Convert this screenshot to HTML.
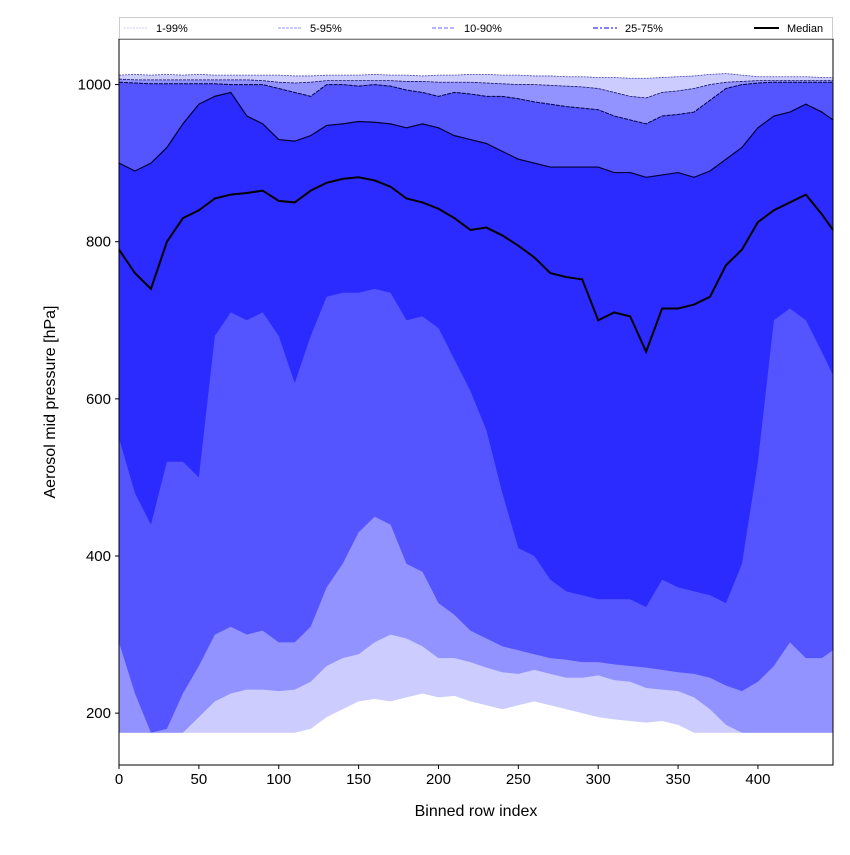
<!DOCTYPE html>
<html><head><meta charset="utf-8"><style>
body{margin:0;background:#fff;font-family:"Liberation Sans",sans-serif}
svg text{font-family:"Liberation Sans",sans-serif}
</style></head><body>
<svg id="c" width="850" height="850"></svg>
<script>
const xs=[0,10,20,30,40,50,60,70,80,90,100,110,120,130,140,150,160,170,180,190,200,210,220,230,240,250,260,270,280,290,300,310,320,330,340,350,360,370,380,390,400,410,420,430,440,447];
const p1=[175,175,175,175,175,175,175,175,175,175,175,175,180,195,205,215,218,215,220,225,220,222,215,210,205,210,215,210,205,200,195,192,190,188,190,185,175,175,175,175,175,175,175,175,175,175];
const p5=[175,175,175,175,175,195,215,225,230,230,228,230,240,260,270,275,290,300,295,285,270,270,265,258,252,250,255,250,245,245,248,242,240,232,230,228,220,205,185,175,175,175,175,175,175,175];
const p10=[290,225,175,180,225,260,300,310,300,305,290,290,310,360,390,430,450,440,390,380,340,325,305,295,285,280,275,270,268,265,265,262,260,258,255,252,250,245,235,228,240,260,290,270,270,280];
const p25=[550,480,440,520,520,500,680,710,700,710,680,620,680,730,735,735,740,735,700,705,690,650,610,560,480,410,400,370,355,350,345,345,345,335,370,360,355,350,340,390,520,700,715,700,660,630];
const median=[790,760,740,800,830,840,855,860,862,865,852,850,865,875,880,882,878,870,855,850,842,830,815,818,808,795,780,760,755,752,700,710,705,660,715,715,720,730,770,790,825,840,850,860,835,815];
const p75=[900,890,900,920,950,975,985,990,960,950,930,928,935,948,950,953,952,950,945,950,945,935,930,925,915,905,900,895,895,895,895,888,888,882,885,888,882,890,905,920,945,960,965,975,965,955];
const p90=[1003,1002,1001,1001,1001,1001,1001,1000,1000,1000,995,990,985,1000,1000,998,1000,998,993,990,985,990,988,985,985,982,978,975,972,970,968,960,955,950,960,962,965,980,995,1000,1002,1003,1003,1003,1003,1003];
const p95=[1007,1006,1006,1006,1006,1006,1006,1006,1006,1005,1003,1002,1003,1005,1005,1005,1005,1005,1004,1004,1003,1003,1003,1002,1001,1000,1000,999,998,997,995,990,985,983,990,992,995,1000,1003,1004,1005,1005,1005,1005,1005,1005];
const p99=[1012,1013,1012,1013,1012,1013,1012,1012,1012,1012,1012,1011,1011,1012,1012,1012,1013,1012,1012,1011,1012,1012,1013,1013,1012,1012,1011,1011,1010,1010,1009,1009,1008,1008,1009,1010,1011,1013,1014,1012,1010,1010,1010,1010,1009,1009];
const xTicks=[0,50,100,150,200,250,300,350,400];
const yTicks=[200,400,600,800,1000];
const NS='http://www.w3.org/2000/svg';
const L=119,R=833,T=39,B=765,X0=0,X1=447,Y0=134,Y1=1058;
const sx=v=>L+(v-X0)/(X1-X0)*(R-L);
const sy=v=>B-(v-Y0)/(Y1-Y0)*(B-T);
const svg=document.getElementById('c');
function mk(t,a,p){const e=document.createElementNS(NS,t);for(const k in a)e.setAttribute(k,a[k]);(p||svg).appendChild(e);return e;}
function band(lo,hi,col,name){
 let d='M'+xs.map((x,i)=>sx(x)+','+sy(hi[i])).join('L');
 d+='L'+xs.map((x,i)=>[x,i]).reverse().map(([x,i])=>sx(x)+','+sy(lo[i])).join('L')+'Z';
 const e=mk('path',{d:d,fill:col,stroke:'none'});
 
 
}
function line(v,col,w,dash,name){
 const e=mk('path',{d:'M'+xs.map((x,i)=>sx(x)+','+sy(v[i])).join('L'),fill:'none',stroke:col,'stroke-width':w,'stroke-dasharray':dash});
 
 
}
band(p1,p99,'#ccccff','band-1-99');
band(p5,p95,'#9393ff','band-5-95');
band(p10,p90,'#5555ff','band-10-90');
band(p25,p75,'#2b2bff','band-25-75');
line(p99,'#4444aa',0.8,'2,1','line-p99');
line(p95,'#111166',0.8,'3,1','line-p95');
line(p90,'#000044',1,'4,1','line-p90');
line(p75,'#000033',1.2,'','line-p75');
line(median,'#000',2,'','median-line');
mk('rect',{x:L,y:T,width:R-L,height:B-T,fill:'none',stroke:'#000','stroke-width':1});
xTicks.forEach(t=>{const x=sx(t);mk('line',{x1:x,x2:x,y1:B,y2:B+4,stroke:'#000'});
 const e=mk('text',{x:x,y:B+19,'text-anchor':'middle','font-size':15});e.textContent=t;
 });
yTicks.forEach(t=>{const y=sy(t);mk('line',{x1:L-4,x2:L,y1:y,y2:y,stroke:'#000'});
 const e=mk('text',{x:L-8,y:y+5,'text-anchor':'end','font-size':15});e.textContent=t;
 });
</script>
<svg width="850" height="850" style="position:absolute;left:0;top:0">
<text x="476" y="816" text-anchor="middle" font-size="16">Binned row index</text>
<text x="55" y="402" text-anchor="middle" font-size="16" transform="rotate(-90 55 402)">Aerosol mid pressure [hPa]</text>
<g>
<rect x="119.5" y="17.5" width="713" height="21" fill="#fff" stroke="#ccc"/>
<line x1="124" x2="148" y1="28" y2="28" stroke="#ccccff" stroke-dasharray="2,1"/>
<text x="156" y="32" font-size="11">1-99%</text>
<line x1="278" x2="302" y1="28" y2="28" stroke="#9393ff" stroke-dasharray="3,1"/>
<text x="310" y="32" font-size="11">5-95%</text>
<line x1="432" x2="456" y1="28" y2="28" stroke="#8888ff" stroke-width="1.2" stroke-dasharray="4,2"/>
<text x="464" y="32" font-size="11">10-90%</text>
<line x1="593" x2="617" y1="28" y2="28" stroke="#5555ff" stroke-width="1.6" stroke-dasharray="5,2,2,2"/>
<text x="625" y="32" font-size="11">25-75%</text>
<line x1="754" x2="779" y1="28" y2="28" stroke="#000" stroke-width="2"/>
<text x="787" y="32" font-size="11">Median</text>
</g>
</svg>
</body></html>
